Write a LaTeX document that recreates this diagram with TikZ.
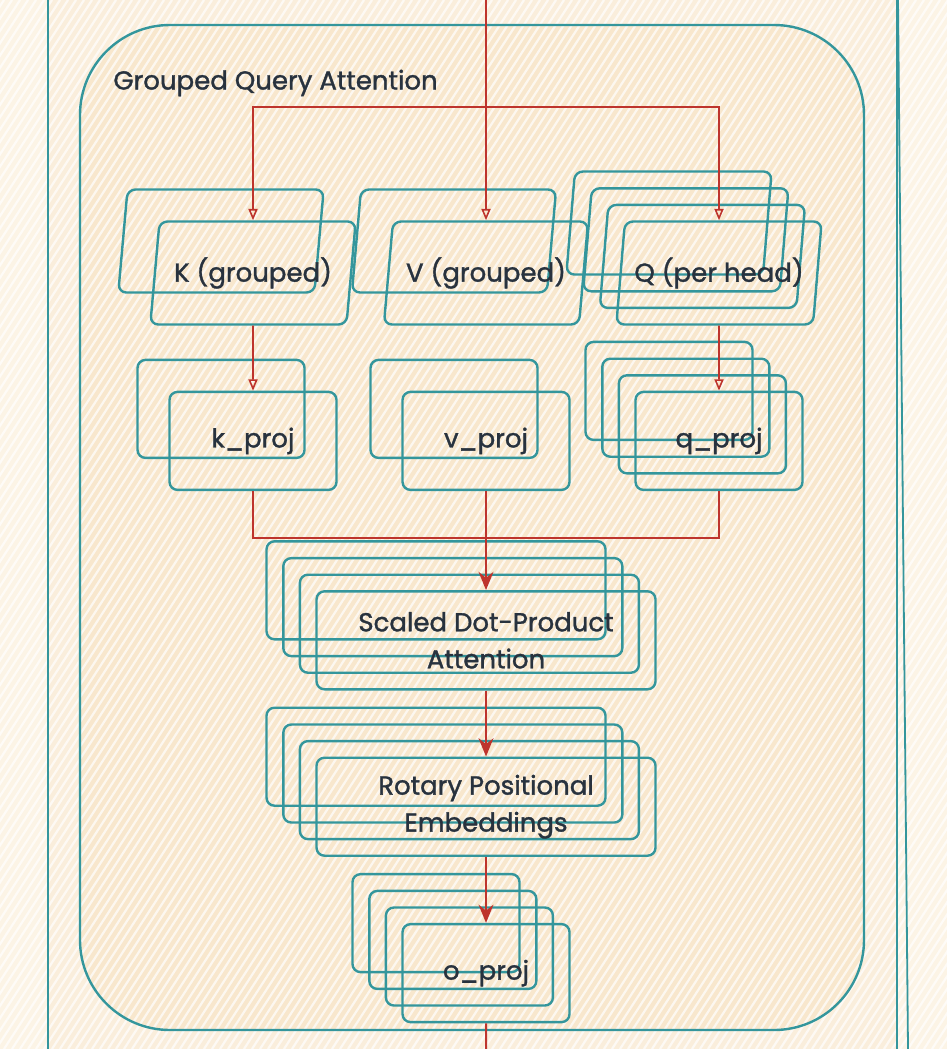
\documentclass[tikz,border=0pt]{standalone}
\usepackage{fontspec}
\setmainfont{Poppins}
\newfontfamily\gqafont{Poppins}[FakeBold=1.3]
\usetikzlibrary{arrows.meta,positioning,shapes.geometric,shadows}
\definecolor{gqateal}{RGB}{52,150,156}
\definecolor{gqared}{RGB}{190,52,45}
\definecolor{gqaink}{RGB}{40,50,62}
\definecolor{paper}{RGB}{252,244,230}
\definecolor{framefill}{RGB}{250,238,220}
\definecolor{groupfill}{RGB}{248,231,205}

\begin{document}
\begin{tikzpicture}[
  x=0.5pt, y=-0.5pt,
  projbox/.style={draw=gqateal, line width=1.2pt, rounded corners=4pt,
               minimum width=83.5pt, minimum height=49pt, inner sep=0pt,
               font=\gqafont\fontsize{13}{18.5}\selectfont, text=gqaink, align=center},
  widebox/.style={projbox, minimum width=169.5pt},
  parabox/.style={projbox, trapezium, trapezium left angle=76,
               trapezium right angle=104, trapezium stretches=true,
               minimum width=103pt, minimum height=51.5pt},
  copyback/.style={copy shadow={shadow xshift=-#1, shadow yshift=#1,
               draw=gqateal, line width=1.2pt, fill=none}},
  stacktwo/.style={copyback=16pt},
  stackfour/.style={copyback=8.3pt, copyback=16.6pt, copyback=25pt},
  grouptitle/.style={font=\gqafont\fontsize{13}{18.5}\selectfont, text=gqaink, inner sep=0pt},
  arr/.style={-{Stealth[length=3.2mm, width=2.6mm]}, draw=gqared, line width=1.2pt},
  thinarr/.style={-{Triangle[open, length=2mm, width=1.6mm]}, draw=gqared, line width=0.8pt},
  link/.style={draw=gqared, line width=1pt},
  node distance=33pt
]
\useasboundingbox (0,0) rectangle (947,1049);

% paper, outer frame and group panel
\fill[paper] (0,0) rectangle (947,1049);
\fill[framefill] (48,0) rectangle (897,1049);
\fill[groupfill, rounded corners=45pt] (80,25) rectangle (864,1030);

% hachure
\begin{scope}
  \clip (0,0) rectangle (947,1049);
  \foreach \s in {-740,-732,...,950}
    \draw[white, opacity=0.7, line width=1.1pt] (\s,1049) -- ++(680,-1049);
\end{scope}

\draw[gqateal, line width=1.2pt] (48,0) -- (48,1049);
\draw[gqateal, line width=1.2pt] (897,0) -- (897,1049);
\draw[gqateal, line width=0.9pt] (898,0) -- (908,1049);
\draw[gqateal, line width=1.2pt, rounded corners=45pt] (80,25) rectangle (864,1030);
\node[grouptitle, anchor=west] (gqatitle) at (113,83) {Grouped Query Attention};

% inputs
\node[parabox, stacktwo] (kin) at (253,273) {K (grouped)};
\node[parabox, stacktwo] (vin) at (486,273) {V (grouped)};
\node[parabox, stackfour] (qin) at (719,273) {Q (per head)};

% projections
\node[projbox, stacktwo, below=32.5pt of kin] (kproj) {k\_proj};
\node[projbox, stacktwo, below=32.5pt of vin] (vproj) {v\_proj};
\node[projbox, stackfour, below=32.5pt of qin] (qproj) {q\_proj};

% attention core
\node[widebox, stackfour, below=49.5pt of vproj] (sdpa) {Scaled Dot-Product\\Attention};
\node[widebox, stackfour, below=of sdpa] (rope) {Rotary Positional\\Embeddings};
\node[projbox, stackfour, below=of rope] (oproj) {o\_proj};

\coordinate (entry) at (486,0);
\coordinate (split) at (486,107);
\coordinate (merge) at (486,538);
\coordinate (exit) at (486,1049);

\draw[thinarr] (entry) -- (vin);
\draw[thinarr] (split) -| (kin);
\draw[thinarr] (split) -| (qin);
\draw[thinarr] (kin) -- (kproj);
\draw[thinarr] (qin) -- (qproj);
\draw[link] (kproj) |- (merge);
\draw[link] (qproj) |- (merge);
\draw[arr] (vproj) -- (sdpa);
\draw[arr] (sdpa) -- (rope);
\draw[arr] (rope) -- (oproj);
\draw[link] (oproj) -- (exit);
\end{tikzpicture}
\end{document}
